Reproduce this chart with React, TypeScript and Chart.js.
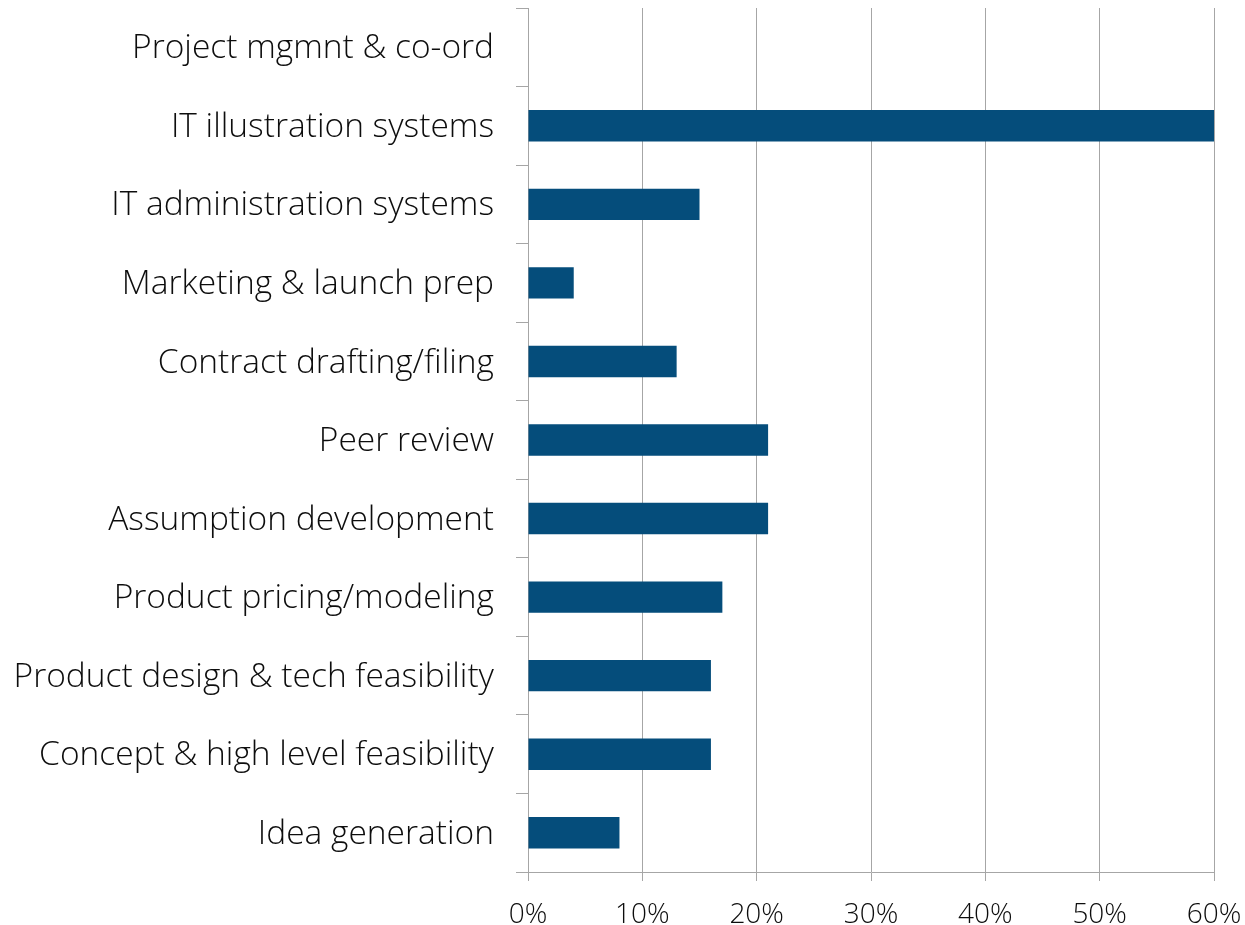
import React, { useEffect, useRef } from "react";
import { Chart, registerables } from "chart.js";

Chart.register(...registerables);

const categories = [
  "Project mgmnt & co-ord",
  "IT illustration systems",
  "IT administration systems",
  "Marketing & launch prep",
  "Contract drafting/filing",
  "Peer review",
  "Assumption development",
  "Product pricing/modeling",
  "Product design & tech feasibility",
  "Concept & high level feasibility",
  "Idea generation",
];

const values = [0, 60, 15, 4, 13, 21, 21, 17, 16, 16, 8];

const xTickStep = 10;
const xMax = 60;

const barColor = "#054d7b";
const gridColor = "#a6a6a6";
const textColor = "#0d0d0d";
const fontFamily = "'Open Sans', sans-serif";

export default function App() {
  const ref = useRef<HTMLCanvasElement | null>(null);

  useEffect(() => {
    document.body.style.margin = "0";
    const canvas = ref.current;
    if (!canvas) return;
    const chart = new Chart(canvas, {
      type: "bar",
      data: {
        labels: categories,
        datasets: [
          {
            data: values,
            backgroundColor: barColor,
            borderWidth: 0,
            categoryPercentage: 1,
            barPercentage: 0.4,
          },
        ],
      },
      options: {
        indexAxis: "y",
        responsive: false,
        animation: false,
        maintainAspectRatio: false,
        layout: { padding: { top: 8, right: 31, bottom: 0, left: 0 } },
        plugins: { legend: { display: false }, tooltip: { enabled: false } },
        scales: {
          x: {
            min: 0,
            max: xMax,
            afterFit: (scale: any) => {
              scale.height = 53;
              scale.paddingLeft = 0;
              scale.paddingRight = 0;
            },
            ticks: {
              stepSize: xTickStep,
              callback: (v: any) => v + "%",
              color: textColor,
              font: { family: fontFamily, size: 28, weight: 300 },
              padding: 17,
              maxRotation: 0,
            },
            grid: {
              color: gridColor,
              lineWidth: 1,
              tickLength: 9,
              drawOnChartArea: true,
              drawTicks: true,
            },
            border: { color: gridColor, width: 1 },
          },
          y: {
            afterFit: (scale: any) => {
              scale.width = 528;
              scale.paddingTop = 0;
              scale.paddingBottom = 0;
            },
            ticks: {
              color: textColor,
              font: { family: fontFamily, size: 33.5, weight: 300 },
              padding: 22,
              labelOffset: 1.5,
              autoSkip: false,
            },
            grid: {
              color: gridColor,
              lineWidth: 1,
              tickLength: 12,
              drawOnChartArea: false,
              drawTicks: true,
              offset: true,
            },
            border: { color: gridColor, width: 1 },
          },
        },
      },
    });
    return () => chart.destroy();
  }, []);

  return (
    <div style={{ width: 1245, height: 925 }}>
      <canvas ref={ref} width={1245} height={925} style={{ display: "block" }} />
    </div>
  );
}
